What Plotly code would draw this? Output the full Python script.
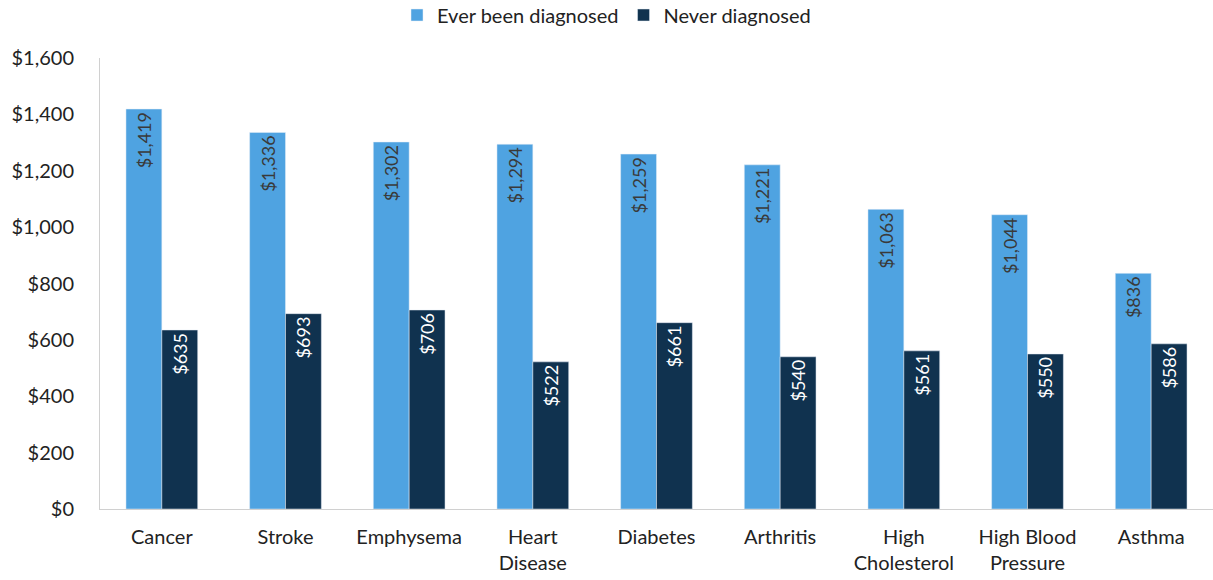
import plotly.graph_objects as go

categories = ["Cancer", "Stroke", "Emphysema", "Heart<br>Disease", "Diabetes", "Arthritis",
              "High<br>Cholesterol", "High Blood<br>Pressure", "Asthma"]
ever_diagnosed = [1419, 1336, 1302, 1294, 1259, 1221, 1063, 1044, 836]
never_diagnosed = [635, 693, 706, 522, 661, 540, 561, 550, 586]
y_ticks = [0, 200, 400, 600, 800, 1000, 1200, 1400, 1600]

FONT = "Lato, 'Open Sans', sans-serif"

fig = go.Figure()
fig.add_trace(go.Bar(
    x=categories, y=ever_diagnosed, name="Ever been diagnosed",
    marker=dict(color="#4FA3E1"),
    text=[f"${v:,}" for v in ever_diagnosed], textposition="inside",
    insidetextanchor="end", textangle=-90,
    textfont=dict(color="#3a3a3a", size=18, family=FONT),
))
fig.add_trace(go.Bar(
    x=categories, y=never_diagnosed, name="Never diagnosed",
    marker=dict(color="#10324F"),
    text=[f"${v:,}" for v in never_diagnosed], textposition="inside",
    insidetextanchor="end", textangle=-90,
    textfont=dict(color="#ffffff", size=18, family=FONT),
))

fig.update_layout(
    width=1213, height=580,
    margin=dict(l=100, r=0, t=58, b=71, autoexpand=False),
    paper_bgcolor="white", plot_bgcolor="white",
    barmode="group", bargap=0.42, bargroupgap=0,
    font=dict(family=FONT, size=20, color="#222222"),
    legend=dict(orientation="h", x=0.5, xanchor="center", xref="container",
                y=1 - 15 / 580, yanchor="middle", yref="container",
                font=dict(size=20), traceorder="normal", itemwidth=30),
    xaxis=dict(showline=True, linecolor="#d0d0d0", linewidth=1, ticks="",
               automargin=False, ticklabelstandoff=10,
               tickfont=dict(size=20, color="#222222")),
    yaxis=dict(range=[0, 1600], tickvals=y_ticks,
               ticktext=[f"${v:,}" for v in y_ticks],
               showgrid=False, showline=True, linecolor="#d0d0d0", linewidth=1,
               ticks="", ticklabelstandoff=21, zeroline=False, automargin=False,
               tickfont=dict(size=20, color="#222222")),
)

fig.write_html("out.html", config={"displayModeBar": False},
               post_script="document.body.style.margin='0px';")
